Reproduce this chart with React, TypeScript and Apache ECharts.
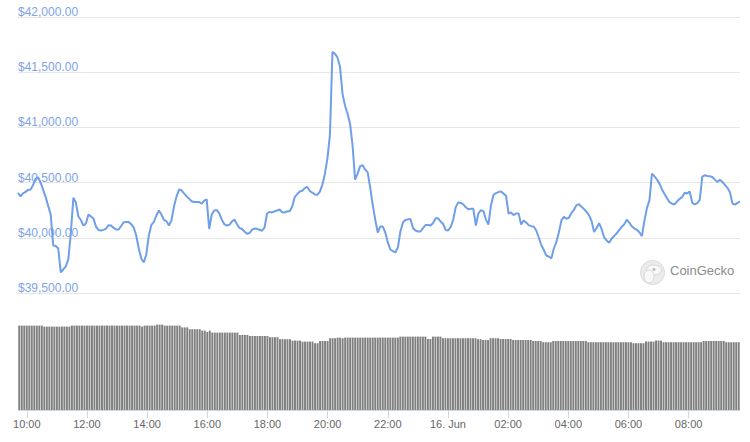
import React, { useEffect, useRef } from "react";
import * as echarts from "echarts";

// 5-minute slots starting at 09:45 (15 Jun) through 09:40 (16 Jun)
const startMinutes = 9 * 60 + 45;
const stepMinutes = 5;
const slotCount = 288;
const pad2 = (n: number) => (n < 10 ? "0" + n : "" + n);
const times: string[] = [];
for (let i = 0; i < slotCount; i++) {
  const m = startMinutes + i * stepMinutes;
  times.push(pad2(Math.floor(m / 60) % 24) + ":" + pad2(m % 60));
}

const tickTimes = ["10:00", "12:00", "14:00", "16:00", "18:00", "20:00", "22:00", "00:00", "02:00", "04:00", "06:00", "08:00"];
const dayLabel = "16. Jun";
const priceMin = 39500;
const priceMax = 42000;
const priceStep = 500;

const prices = [
  40407, 40375, 40402, 40416, 40434, 40437, 40478, 40536, 40548, 40500,
  40434, 40369, 40289, 40211, 39930, 39926, 39903, 39686, 39713, 39741,
  39804, 40039, 40362, 40319, 40193, 40161, 40111, 40129, 40211, 40193,
  40174, 40102, 40071, 40066, 40072, 40084, 40114, 40111, 40089, 40075,
  40075, 40107, 40141, 40143, 40142, 40124, 40093, 40021, 39903, 39813,
  39777, 39849, 40021, 40116, 40145, 40202, 40247, 40211, 40163, 40151,
  40111, 40159, 40283, 40373, 40437, 40430, 40402, 40377, 40355, 40331,
  40324, 40325, 40324, 40310, 40337, 40348, 40080, 40211, 40247, 40251,
  40221, 40166, 40123, 40111, 40118, 40147, 40166, 40125, 40090, 40080,
  40057, 40036, 40043, 40073, 40084, 40081, 40073, 40064, 40093, 40220,
  40235, 40230, 40240, 40247, 40256, 40232, 40229, 40240, 40240, 40283,
  40369, 40396, 40419, 40426, 40450, 40461, 40423, 40410, 40393, 40389,
  40419, 40482, 40581, 40720, 40934, 41684, 41666, 41634, 41549, 41304,
  41196, 41124, 41033, 40834, 40527, 40581, 40649, 40658, 40617, 40593,
  40455, 40301, 40165, 40048, 40102, 40102, 40048, 39958, 39894, 39879,
  39867, 39912, 40057, 40138, 40161, 40167, 40171, 40089, 40066, 40057,
  40057, 40087, 40116, 40115, 40111, 40134, 40176, 40176, 40147, 40125,
  40071, 40066, 40099, 40163, 40278, 40321, 40316, 40303, 40276, 40258,
  40263, 40263, 40111, 40220, 40250, 40242, 40165, 40120, 40292, 40387,
  40405, 40414, 40419, 40400, 40381, 40220, 40229, 40206, 40220, 40221,
  40120, 40156, 40138, 40115, 40105, 40102, 40066, 40003, 39935, 39890,
  39840, 39831, 39813, 39903, 39962, 40048, 40158, 40190, 40173, 40181,
  40225, 40254, 40296, 40305, 40281, 40260, 40236, 40203, 40152, 40052,
  40089, 40132, 40078, 40003, 39976, 39955, 39994, 40017, 40041, 40071,
  40100, 40123, 40164, 40138, 40104, 40085, 40072, 40051, 40015, 40154,
  40269, 40339, 40581, 40556, 40527, 40491, 40438, 40396, 40359, 40323,
  40309, 40302, 40330, 40353, 40369, 40408, 40402, 40419, 40319, 40303,
  40315, 40344, 40554, 40566, 40560, 40557, 40551, 40527, 40505, 40526,
  40505, 40480, 40453, 40412, 40310, 40301, 40316, 40328,
];

// volume (billions USD, 24h rolling)
const volumes = [
  42.2, 42.2, 42.2, 42.2, 42.2, 42.2, 42.2, 42.2, 42.2, 42.2,
  41.7, 41.7, 41.7, 41.7, 41.7, 41.7, 41.7, 41.7, 41.7, 41.7, 41.7,
  42.2, 42.2, 42.2, 42.2, 42.2, 42.2, 42.2, 42.2, 42.2, 42.2, 42.2, 42.2, 42.2, 42.2,
  42.2, 42.2, 42.2, 42.2, 42.2, 42.2, 42.2, 42.2, 42.2, 42.2, 42.2, 42.2, 42.2, 42.2,
  41.7,
  42.2, 42.2, 42.2, 42.2, 42.2,
  42.7, 42.7, 42.7,
  42.2, 42.2, 42.2, 42.2, 42.2, 42.2, 42.2,
  41.3, 41.3, 41.3,
  40.4, 40.4, 40.4, 40.4, 40.4,
  39.7, 39.7, 39.0, 39.7,
  38.7, 38.7, 38.7, 38.7, 38.7, 38.7, 38.7, 38.7, 38.7, 38.7, 38.7,
  37.5, 37.5, 37.5, 37.5,
  37.0, 37.0, 37.0, 37.0, 37.0, 37.0, 37.0, 37.0,
  36.4, 36.4, 36.4, 36.4,
  35.4, 35.4, 35.4, 35.4, 35.4,
  34.7, 34.7, 34.7, 34.7,
  34.2, 34.2, 34.2, 34.2, 34.2,
  33.4, 33.4,
  34.5, 34.5, 34.5, 34.5,
  35.9, 35.9, 35.9,
  36.2, 36.2, 35.9, 36.2, 36.2, 36.2, 36.2, 36.2, 36.2, 36.2, 36.2, 36.2, 36.2,
  36.2, 36.2, 36.2, 36.2, 36.2, 36.2, 36.2, 36.2, 36.2, 36.2, 36.2, 36.2,
  36.7, 36.7, 36.7, 36.7, 36.7, 36.7, 36.7, 36.7, 36.7, 36.7, 36.7,
  35.5, 35.5,
  36.7, 36.7, 36.7, 36.7,
  35.9, 35.9, 35.9, 35.9, 35.9, 35.9, 35.9, 35.9, 35.9, 35.9, 35.9, 35.9, 35.9, 35.9,
  35.4, 35.4,
  35.0, 35.0, 35.0,
  35.9, 35.9, 35.9, 35.9,
  35.5, 35.5, 35.5, 35.5, 35.5,
  35.0, 35.0, 35.0, 35.0, 35.0, 35.0, 35.0, 35.0,
  34.5, 34.5, 34.5, 34.5,
  33.9, 33.9, 33.9, 33.9,
  34.5, 34.5, 34.5, 34.5, 34.5, 34.5, 34.5, 34.5, 34.5, 34.5, 34.5, 34.5, 34.5, 34.5,
  33.9, 33.9, 33.9, 33.9, 33.9, 33.9, 33.9, 33.9, 33.9,
  33.9, 33.9, 33.9, 33.9, 33.9, 33.9, 33.9, 33.9, 33.9,
  33.4, 33.4, 33.4, 33.4, 33.4,
  34.2, 34.2, 34.2, 34.2,
  34.7, 34.7, 34.7,
  33.9, 33.9, 33.9, 33.9, 33.9, 33.9, 33.9, 33.9, 33.9, 33.9, 33.9, 33.9, 33.9, 33.9, 33.9, 33.9,
  34.5, 34.5, 34.5, 34.5, 34.5, 34.5, 34.5, 34.5, 34.5,
  33.9, 33.9, 33.9, 33.9, 33.9, 33.9,
];
const volumeMax = 45;

const FONT = "'Liberation Sans', Arial, Helvetica, sans-serif";

export default function App() {
  const ref = useRef<HTMLDivElement>(null);
  useEffect(() => {
    if (!ref.current) return;
    const chart = echarts.init(ref.current, undefined, { renderer: "svg" });
    const showTick = (_i: number, v: string) => tickTimes.indexOf(v) >= 0;
    chart.setOption({
      animation: false,
      backgroundColor: "#ffffff",
      textStyle: { fontFamily: FONT },
      grid: [
        { left: 18, right: 10, top: 17, height: 276 },
        { left: 18, right: 10, top: 320, height: 90 },
      ],
      xAxis: [
        { type: "category", gridIndex: 0, data: times, boundaryGap: false, show: false },
        {
          type: "category",
          gridIndex: 1,
          data: times,
          boundaryGap: true,
          axisLine: { show: true, lineStyle: { color: "#ccd6eb", width: 1 } },
          axisTick: { show: true, alignWithLabel: true, interval: showTick, length: 8, lineStyle: { color: "#ccd6eb" } },
          axisLabel: {
            interval: showTick,
            formatter: (v: string) => (v === "00:00" ? dayLabel : v),
            color: "#666666",
            fontSize: 11,
            fontFamily: FONT,
            margin: 8,
          },
          splitLine: { show: false },
        },
      ],
      yAxis: [
        {
          type: "value",
          gridIndex: 0,
          min: priceMin,
          max: priceMax,
          interval: priceStep,
          axisLine: { show: false },
          axisTick: { show: false },
          splitLine: { show: true, lineStyle: { color: "#e6e6e6", width: 1 } },
          axisLabel: {
            inside: true,
            margin: 0,
            verticalAlign: "bottom",
            lineHeight: 10,
            color: "#7ea3e8",
            fontSize: 12,
            fontFamily: FONT,
            formatter: (v: number) =>
              "$" + v.toLocaleString("en-US", { minimumFractionDigits: 2, maximumFractionDigits: 2 }),
          },
        },
        { type: "value", gridIndex: 1, min: 0, max: volumeMax, show: false, splitLine: { show: false } },
      ],
      series: [
        {
          type: "bar",
          xAxisIndex: 1,
          yAxisIndex: 1,
          data: volumes,
          barCategoryGap: "22%",
          itemStyle: { color: "#808080" },
          silent: true,
        },
        {
          type: "line",
          xAxisIndex: 0,
          yAxisIndex: 0,
          data: prices,
          symbol: "none",
          showSymbol: false,
          lineStyle: { color: "#6f9fe9", width: 2 },
          z: 5,
          silent: true,
        },
      ],
      graphic: [
        {
          type: "group",
          left: 640,
          top: 260,
          children: [
            { type: "circle", shape: { cx: 12.5, cy: 12, r: 12 }, style: { fill: "#ebebeb", stroke: "#dcdcdc", lineWidth: 1 } },
            { type: "ellipse", shape: { cx: 14, cy: 9.5, rx: 7.5, ry: 5 }, style: { fill: "#f8f8f8", stroke: "#d0d0d0", lineWidth: 0.8 } },
            { type: "ellipse", shape: { cx: 9, cy: 16, rx: 5, ry: 6.5 }, style: { fill: "#f8f8f8", stroke: "#d0d0d0", lineWidth: 0.8 } },
            { type: "circle", shape: { cx: 14, cy: 9, r: 1.4 }, style: { fill: "#b5b5b5" } },
          ],
        },
        {
          type: "text",
          left: 670,
          top: 264,
          style: { text: "CoinGecko", fill: "#8c8c8c", fontSize: 13, fontFamily: FONT },
        },
      ],
    });
    return () => chart.dispose();
  }, []);
  return (
    <div
      ref={ref}
      style={{ position: "absolute", left: 0, top: 0, width: 750, height: 442, background: "#fff" }}
    />
  );
}
